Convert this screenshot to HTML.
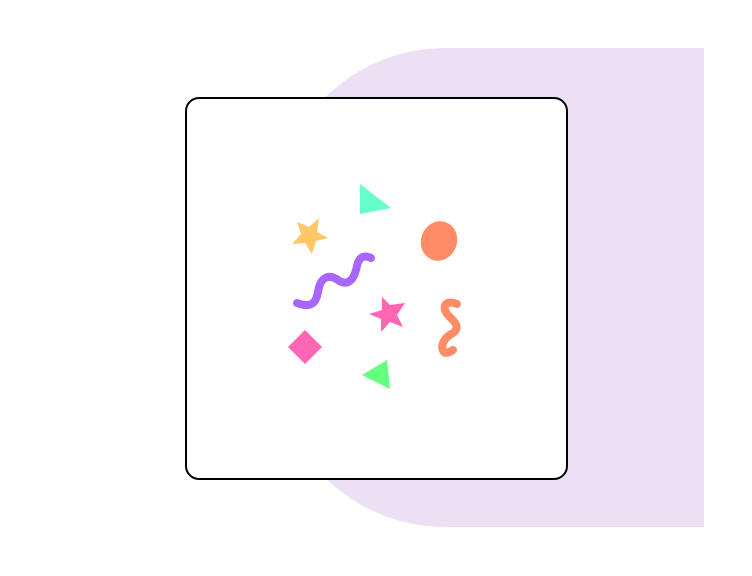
<!DOCTYPE html>
<html><head><meta charset="utf-8"><style>
html,body{margin:0;padding:0;background:#fff;width:752px;height:576px;overflow:hidden;position:relative;font-family:"Liberation Sans",sans-serif}
#bg{position:absolute;left:275px;top:48px;width:429px;height:479px;background:#ede0f4;border-radius:170px 0 0 170px}
#card{position:absolute;left:185px;top:97px;width:379px;height:379px;border:2px solid #000;border-radius:14px;background:#fff}
svg{position:absolute;left:0;top:0}
</style></head><body>
<div id="bg"></div>
<div id="card"></div>
<svg width="752" height="576">
<polygon points="360,184 391,208 360,214" fill="#66ffcc"/>
<polygon fill="#ffc766" points="319,218 317,232 328,238 316,241 312,254 305,243 292,244 301,234 297,222 309,227"/>
<ellipse cx="439" cy="241" rx="18" ry="20" transform="rotate(20 439 241)" fill="#ff8c66"/>
<path d="M297,303 C310,308 316,304 318,292 C320,278 328,273 338,280 C350,288 355,276 357,266 C359,256 365,255 371,258" fill="none" stroke="#a966ff" stroke-width="8" stroke-linecap="round"/>
<polygon fill="#ff66b3" points="382,297 390,305 405,303 397,315 403,327 390,322 381,332 381,319 369,314 382,310"/>
<path d="M457,304 C447,300 441,305 447,314 C452,320 462,326 453,333 C443,338 440,347 444,352 C446,354 450,352 453,350" fill="none" stroke="#ff8c66" stroke-width="8" stroke-linecap="round"/>
<polygon points="305,330 322,347 305,364 288,347" fill="#ff66b3"/>
<polygon points="387,360 362,375 390,389" fill="#66ff80"/>
</svg>
</body></html>
